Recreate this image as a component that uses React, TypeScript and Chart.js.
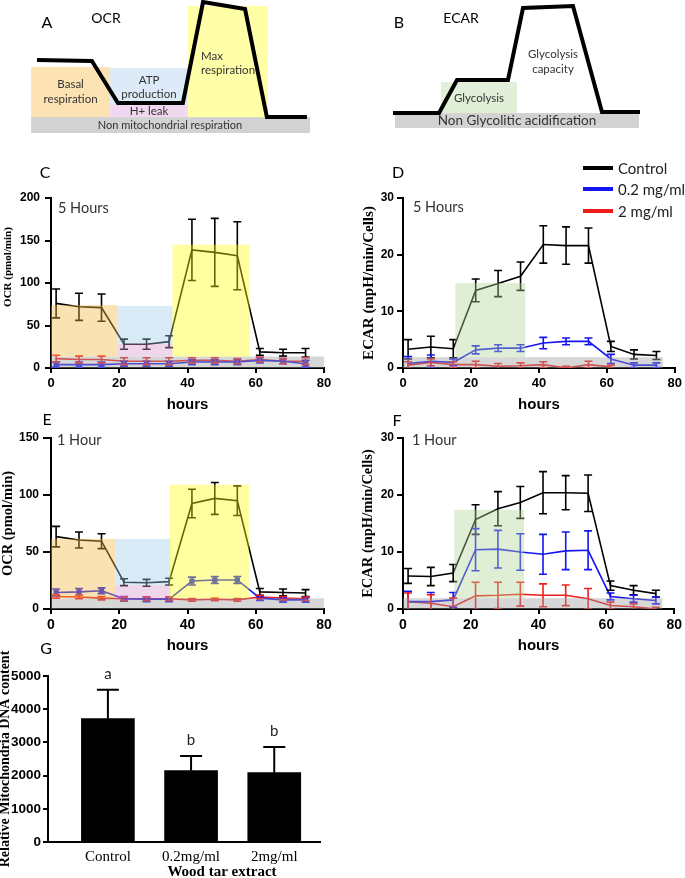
import React, { useEffect, useRef } from 'react';
import { Chart, registerables } from 'chart.js';

Chart.register(...registerables);

// ---------------- data ----------------
const hours = [1.5, 8.2, 14.8, 21.4, 28, 34.6, 41.3, 48, 54.6, 61.2, 68, 74.6];
const seriesNames = ['Control', '0.2 mg/ml', '2 mg/ml'];

// C: OCR, 5 hours
const ocr5Control = [76, 72, 71, 28, 28, 31, 139, 136, 132, 19, 18, 18];
const ocr5ControlErr = [17, 16, 16, 6, 6, 7, 36, 40, 40, 4, 4, 5];
const ocr5Low = [4, 4, 4, 5, 5, 5, 7, 7, 7, 9, 8, 5];
const ocr5LowErr = [3, 3, 3, 3, 3, 3, 3, 3, 3, 3, 3, 4];
const ocr5High = [11, 10, 10, 8, 8, 8, 9, 9, 8, 10, 8, 8];
const ocr5HighErr = [4, 4, 4, 4, 4, 4, 3, 3, 3, 3, 3, 4];

// D: ECAR, 5 hours
const ecar5Control = [3.3, 3.7, 3.4, 13.7, 14.9, 16.2, 21.8, 21.6, 21.6, 3.8, 2.4, 2.2];
const ecar5ControlErr = [1.7, 1.9, 1.6, 2.0, 2.3, 2.5, 3.3, 3.3, 3.1, 0.9, 0.8, 0.7];
const ecar5Low = [0.8, 1.2, 1.0, 3.2, 3.5, 3.5, 4.4, 4.7, 4.7, 1.6, 0.5, 0.5];
const ecar5LowErr = [1.2, 1.1, 0.6, 0.7, 0.6, 0.6, 1.0, 0.6, 0.6, 0.8, 0.4, 0.4];
const ecar5High = [0.5, 1.0, 0.6, 0.6, 0.3, 0.4, 0.6, 0.0, 0.6, 0.2, null, null];
const ecar5HighErr = [0.6, 0.6, 0.5, 0.6, 0.5, 0.5, 0.5, 0.3, 0.6, 0.3, null, null];

// E: OCR, 1 hour
const ocr1Control = [63.5, 60.5, 59.5, 23.5, 23, 24, 92.5, 97, 95, 15, 14.5, 14];
const ocr1ControlErr = [9, 7, 6.5, 3, 3, 3, 12.5, 14, 13, 3, 3, 3];
const ocr1Low = [14.5, 15, 16, 9, 8.5, 8.5, 24.5, 25.5, 25.5, 9.5, 8, 8];
const ocr1LowErr = [3, 3, 2.5, 2, 2, 2, 3.5, 3, 3, 2, 2, 2];
const ocr1High = [11, 10.5, 9.5, 9, 9, 9, 8, 8.5, 8, 10.5, 9.5, 9];
const ocr1HighErr = [1.5, 1.5, 1.5, 1.5, 1.5, 1.5, 1.2, 1.2, 1.2, 1.5, 1.5, 1.5];

// F: ECAR, 1 hour
const ecar1Control = [5.8, 5.7, 6.3, 15.7, 17.6, 18.7, 20.4, 20.4, 20.3, 4.1, 3.3, 2.7];
const ecar1ControlErr = [1.3, 1.6, 1.5, 2.6, 3.0, 2.8, 3.7, 3.0, 3.2, 0.8, 0.8, 0.6];
const ecar1Low = [1.3, 1.3, 1.6, 10.4, 10.5, 10.0, 9.6, 10.2, 10.3, 2.2, 1.8, 1.5];
const ecar1LowErr = [1.8, 1.6, 1.3, 3.7, 3.3, 3.2, 3.5, 3.3, 3.4, 0.6, 0.6, 0.6];
const ecar1High = [1.3, 1.0, 0.4, 2.3, 2.4, 2.6, 2.4, 2.4, 1.8, 0.6, 0.4, 0.0];
const ecar1HighErr = [1.5, 1.5, 1.5, 2.4, 2.3, 2.1, 2.0, 1.8, 1.8, 0.6, 0.5, 0.3];

// shaded phase regions (axis units)
const regionsC = [
  { kind: 'nonmito', x0: 0, x1: 80, y0: 0, y1: 13.5 },
  { kind: 'basal', x0: 0, x1: 19.4, y0: 13.5, y1: 74 },
  { kind: 'atp', x0: 19.4, x1: 35.6, y0: 28.6, y1: 73 },
  { kind: 'leak', x0: 19.4, x1: 35.6, y0: 13.5, y1: 28.6 },
  { kind: 'max', x0: 35.6, x1: 58.2, y0: 13.5, y1: 145 },
];
const regionsD = [
  { kind: 'nonmito', x0: 0, x1: 76.5, y0: 0, y1: 1.9 },
  { kind: 'glyco', x0: 15.4, x1: 36, y0: 1.9, y1: 15 },
];
const regionsE = [
  { kind: 'nonmito', x0: 0, x1: 80, y0: 0, y1: 9.4 },
  { kind: 'basal', x0: 0, x1: 18.7, y0: 9.4, y1: 61.5 },
  { kind: 'atp', x0: 18.7, x1: 35, y0: 20.9, y1: 61.5 },
  { kind: 'leak', x0: 18.7, x1: 35, y0: 9.4, y1: 20.9 },
  { kind: 'max', x0: 34.7, x1: 58, y0: 9.4, y1: 109 },
];
const regionsF = [
  { kind: 'nonmito', x0: 0, x1: 76.5, y0: 0, y1: 1.9 },
  { kind: 'glyco', x0: 15.1, x1: 35.7, y0: 1.9, y1: 17.4 },
];

// A: OCR schematic
const ocrSchemeT = [2.5, 22.1, 31.4, 54.6, 61.8, 76.8, 84.6, 98.9];
const ocrSchemeLevel = [54.9, 54.1, 22.6, 22.6, 98.5, 93.2, 12, 12];
const ocrSchemeRegions = [
  { kind: 'nonmito', x0: 0.4, x1: 100, y0: 0, y1: 12 },
  { kind: 'basal', x0: 0.4, x1: 28.6, y0: 12, y1: 49.6 },
  { kind: 'atp', x0: 28.6, x1: 56.4, y0: 21, y1: 48.9 },
  { kind: 'leak', x0: 28.6, x1: 56.4, y0: 12, y1: 21 },
  { kind: 'max', x0: 56.4, x1: 85, y0: 12, y1: 95.5 },
];
const ocrSchemeTexts = [
  { lines: ['Basal', 'respiration'], x: 14.5, y: 31, align: 'center', size: 11.5 },
  { lines: ['ATP', 'production'], x: 42.5, y: 34.2, align: 'center', size: 11.5 },
  { lines: ['H+ leak'], x: 42.5, y: 16.5, align: 'center', size: 11.5 },
  { lines: ['Max', 'respiration'], x: 61.1, y: 52.6, align: 'left', size: 11.5 },
  { lines: ['Non mitochondrial respiration'], x: 50, y: 5.6, align: 'center', size: 11 },
];

// B: ECAR schematic
const ecarSchemeT = [1.2, 19.6, 26.8, 47.2, 53.2, 73.2, 84.8, 100];
const ecarSchemeLevel = [11.7, 11.7, 37.5, 37.5, 93.75, 95.3, 12.5, 12.5];
const ecarSchemeRegions = [
  { kind: 'nonmito', x0: 2, x1: 99.6, y0: 0, y1: 11.7 },
  { kind: 'glyco', x0: 20.4, x1: 50.8, y0: 11.7, y1: 35.9 },
];
const ecarSchemeTexts = [
  { lines: ['Glycolysis'], x: 35.6, y: 23.4, align: 'center', size: 11.5 },
  { lines: ['Glycolysis', 'capacity'], x: 65.2, y: 51.6, align: 'center', size: 11.5 },
  { lines: ['Non Glycolitic acidification'], x: 50.8, y: 5.5, align: 'center', size: 13.5 },
];

// G: mitochondrial DNA
const groups = ['Control', '0.2mg/ml', '2mg/ml'];
const mtDNA = [3715, 2149, 2088];
const mtDNAErr = [873, 441, 774];
const sigLetters = ['a', 'b', 'b'];

// ---------------- styles ----------------
const seriesColors = ['#000000', '#1414f5', '#f01c1c'];
const overlayFill: Record<string, string> = {
  nonmito: 'rgba(160,160,160,0.42)',
  basal: 'rgba(246,182,62,0.4)',
  atp: 'rgba(160,204,232,0.4)',
  leak: 'rgba(216,152,206,0.4)',
  max: 'rgba(255,255,20,0.4)',
  glyco: 'rgba(178,212,150,0.4)',
};
const schemeFill: Record<string, string> = {
  nonmito: '#d2d2d2',
  basal: '#fde3b3',
  atp: '#dcebf7',
  leak: '#f1d7ef',
  max: '#ffffa8',
  glyco: '#e2efd8',
};
const SANS = "'Liberation Sans', Arial, sans-serif";
const SERIF = "'Liberation Serif', 'Times New Roman', serif";
const CAL = "Lato, 'Open Sans', sans-serif";

// ---------------- plugins ----------------
const regionPlugin = {
  id: 'regions',
  draw(chart: any, o: any) {
    if (!o || !o.items) return;
    const { ctx, chartArea } = chart;
    const xs = chart.scales.x, ys = chart.scales.y;
    ctx.save();
    ctx.beginPath();
    ctx.rect(chartArea.left, chartArea.top, chartArea.right - chartArea.left, chartArea.bottom - chartArea.top);
    ctx.clip();
    o.items.forEach((r: any) => {
      const x0 = xs.getPixelForValue(r.x0), x1 = xs.getPixelForValue(r.x1);
      const y0 = ys.getPixelForValue(r.y0), y1 = ys.getPixelForValue(r.y1);
      ctx.fillStyle = o.palette[r.kind];
      ctx.fillRect(x0, y1, x1 - x0, y0 - y1);
    });
    ctx.restore();
  },
  beforeDatasetsDraw(chart: any, _a: any, o: any) { if (o && !o.over) regionPlugin.draw(chart, o); },
  afterDatasetsDraw(chart: any, _a: any, o: any) { if (o && o.over) regionPlugin.draw(chart, o); },
};

const errorBarPlugin = {
  id: 'errorBars',
  afterDatasetsDraw(chart: any, _a: any, o: any) {
    const { ctx, chartArea } = chart;
    const ys = chart.scales.y;
    const cap = (o && o.capHalf) || 4;
    ctx.save();
    ctx.beginPath();
    ctx.rect(chartArea.left, chartArea.top - 2, chartArea.right - chartArea.left, chartArea.bottom - chartArea.top + 2);
    ctx.clip();
    chart.data.datasets.forEach((ds: any, i: number) => {
      if (!ds.errors) return;
      const meta = chart.getDatasetMeta(i);
      ctx.strokeStyle = ds.errorColor || ds.borderColor;
      ctx.lineWidth = (o && o.lineWidth) || 1.6;
      meta.data.forEach((el: any, j: number) => {
        const d = ds.data[j];
        const e = ds.errors[j];
        if (!d || d.y == null || e == null) return;
        const x = el.x;
        const yt = ys.getPixelForValue(d.y + e);
        const yb = o && o.upOnly ? ys.getPixelForValue(d.y) : ys.getPixelForValue(d.y - e);
        ctx.beginPath();
        ctx.moveTo(x, yt); ctx.lineTo(x, yb);
        ctx.moveTo(x - cap, yt); ctx.lineTo(x + cap, yt);
        if (!(o && o.upOnly)) { ctx.moveTo(x - cap, yb); ctx.lineTo(x + cap, yb); }
        ctx.stroke();
      });
    });
    ctx.restore();
  },
};

const sideTitlePlugin = {
  id: 'sideTitle',
  afterDraw(chart: any, _a: any, o: any) {
    if (!o || !o.text) return;
    const { ctx, chartArea } = chart;
    ctx.save();
    ctx.translate(o.x, (chartArea.top + chartArea.bottom) / 2 + (o.dy || 0));
    ctx.rotate(-Math.PI / 2);
    ctx.font = o.font;
    ctx.fillStyle = '#000';
    ctx.textAlign = 'center';
    ctx.textBaseline = 'middle';
    ctx.fillText(o.text, 0, 0);
    ctx.restore();
  },
};

const freeTextPlugin = {
  id: 'freeText',
  afterDraw(chart: any, _a: any, o: any) {
    if (!o || !o.items) return;
    const { ctx } = chart;
    ctx.save();
    o.items.forEach((t: any) => {
      ctx.font = t.font;
      ctx.fillStyle = t.color || '#000';
      ctx.textAlign = t.align || 'center';
      ctx.textBaseline = 'middle';
      ctx.fillText(t.text, t.x, t.y);
    });
    ctx.restore();
  },
};

const schemeTextPlugin = {
  id: 'schemeText',
  afterDatasetsDraw(chart: any, _a: any, o: any) {
    if (!o || !o.items) return;
    const { ctx } = chart;
    const xs = chart.scales.x, ys = chart.scales.y;
    ctx.save();
    ctx.fillStyle = '#333';
    ctx.textBaseline = 'middle';
    o.items.forEach((t: any) => {
      ctx.font = `${t.size}px ${CAL}`;
      ctx.textAlign = t.align;
      const lh = t.size * 1.25;
      const cx = xs.getPixelForValue(t.x), cy = ys.getPixelForValue(t.y);
      t.lines.forEach((ln: string, k: number) => {
        ctx.fillText(ln, cx, cy + (k - (t.lines.length - 1) / 2) * lh);
      });
    });
    ctx.restore();
  },
};

const barLetterPlugin = {
  id: 'barLetters',
  afterDatasetsDraw(chart: any, _a: any, o: any) {
    if (!o || !o.letters) return;
    const { ctx } = chart;
    const ys = chart.scales.y;
    const ds = chart.data.datasets[0];
    const meta = chart.getDatasetMeta(0);
    ctx.save();
    ctx.font = o.font;
    ctx.fillStyle = '#222';
    ctx.textAlign = 'center';
    ctx.textBaseline = 'middle';
    meta.data.forEach((el: any, j: number) => {
      const top = ys.getPixelForValue(ds.data[j].y + ds.errors[j]);
      ctx.fillText(o.letters[j], el.x, top - o.gap);
    });
    ctx.restore();
  },
};

// ---------------- chart builders ----------------
function schemeConfig(t: number[], lvl: number[], regions: any[], texts: any[], padding: any) {
  return {
    type: 'line',
    data: {
      datasets: [{
        data: t.map((x, i) => ({ x, y: lvl[i] })),
        borderColor: '#000', borderWidth: 4, pointRadius: 0, clip: false, tension: 0,
      }],
    },
    options: {
      responsive: false, animation: false, devicePixelRatio: 1,
      layout: { padding },
      plugins: {
        legend: { display: false }, tooltip: { enabled: false },
        regions: { items: regions, over: false, palette: schemeFill },
        schemeText: { items: texts },
      },
      scales: {
        x: { type: 'linear', min: 0, max: 100, display: false },
        y: { type: 'linear', min: 0, max: 100, display: false },
      },
    },
    plugins: [regionPlugin, schemeTextPlugin],
  };
}

interface Panel {
  series: (number | null)[][];
  errors: (number | null)[][];
  regions: any[];
  yMax: number; yStep: number;
  yTitle: string; yTitleFont: string; yTitleX: number; yTitleDy: number;
  yAxisW: number; xAxisH: number; padTop: number; padRight: number;
  xTickSize: number; yTickSize: number; yTickPad: number; yTickLen: number;
  xTitlePad: number; markers: boolean;
}

function lineConfig(p: Panel) {
  return {
    type: 'line',
    data: {
      datasets: p.series.map((vals, k) => ({
        label: seriesNames[k],
        data: hours.map((h, i) => ({ x: h, y: vals[i] })),
        errors: p.errors[k],
        borderColor: seriesColors[k],
        backgroundColor: seriesColors[k],
        borderWidth: 1.6,
        pointRadius: p.markers && k === 1 ? 2.6 : 0,
        pointStyle: 'rect',
        tension: 0,
      })),
    },
    options: {
      responsive: false, animation: false, devicePixelRatio: 1,
      layout: { padding: { left: 0, right: p.padRight, top: p.padTop, bottom: 0 } },
      plugins: {
        legend: { display: false }, tooltip: { enabled: false },
        regions: { items: p.regions, over: true, palette: overlayFill },
        errorBars: { capHalf: 4, lineWidth: 1.6 },
        sideTitle: { text: p.yTitle, font: p.yTitleFont, x: p.yTitleX, dy: p.yTitleDy },
      },
      scales: {
        x: {
          type: 'linear', min: 0, max: 80,
          ticks: { stepSize: 20, color: '#000', padding: 3, maxRotation: 0, font: { family: SANS, size: p.xTickSize, weight: 'bold' } },
          grid: { drawOnChartArea: false, tickLength: 5, color: '#000', lineWidth: 2 },
          border: { color: '#000', width: 2 },
          title: { display: true, text: 'hours', color: '#000', font: { family: SANS, size: 15, weight: 'bold' }, padding: { top: 0, bottom: p.xTitlePad } },
          afterFit: (s: any) => { s.height = p.xAxisH; },
        },
        y: {
          type: 'linear', min: 0, max: p.yMax,
          ticks: { stepSize: p.yStep, color: '#000', padding: p.yTickPad, font: { family: SANS, size: p.yTickSize, weight: 'bold' } },
          grid: { drawOnChartArea: false, tickLength: p.yTickLen, color: '#000', lineWidth: 2 },
          border: { color: '#000', width: 2 },
          afterFit: (s: any) => { s.width = p.yAxisW; },
        },
      },
    },
    plugins: [errorBarPlugin, regionPlugin, sideTitlePlugin],
  };
}

function barConfig() {
  return {
    type: 'bar',
    data: {
      datasets: [{
        data: groups.map((g, i) => ({ x: i + 1, y: mtDNA[i] })),
        errors: mtDNAErr,
        backgroundColor: '#000', borderWidth: 0, barThickness: 53,
        borderColor: '#000',
      }],
    },
    options: {
      responsive: false, animation: false, devicePixelRatio: 1,
      layout: { padding: { left: 0, right: 20, top: 36, bottom: 0 } },
      plugins: {
        legend: { display: false }, tooltip: { enabled: false },
        errorBars: { capHalf: 11, lineWidth: 2, upOnly: true },
        barLetters: { letters: sigLetters, font: `15px ${CAL}`, gap: 16 },
        sideTitle: { text: 'Relative Mitochondria DNA content', font: `bold 14px ${SERIF}`, x: 5, dy: 0 },
        freeText: { items: [{ text: 'Wood tar extract', x: 222, y: 232, font: `bold 15px ${SERIF}` }] },
      },
      scales: {
        x: {
          type: 'linear', min: 0.28, max: 3.55, offset: false,
          afterBuildTicks: (s: any) => { s.ticks = groups.map((_, i) => ({ value: i + 1 })); },
          ticks: { autoSkip: false, maxRotation: 0, color: '#000', padding: 6, font: { family: SERIF, size: 15 }, callback: (v: any) => groups[Math.round(v) - 1] ?? '' },
          grid: { display: false, drawTicks: false },
          border: { color: '#000', width: 2 },
          afterFit: (s: any) => { s.height = 36; },
        },
        y: {
          min: 0, max: 5000,
          ticks: { stepSize: 1000, color: '#000', padding: 2, font: { family: SANS, size: 13.5, weight: 'bold' }, callback: (v: any) => String(v) },
          grid: { drawOnChartArea: false, tickLength: 5, color: '#000', lineWidth: 2 },
          border: { color: '#000', width: 2 },
          afterFit: (s: any) => { s.width = 48; },
        },
      },
    },
    plugins: [errorBarPlugin, barLetterPlugin, sideTitlePlugin, freeTextPlugin],
  };
}

// ---------------- components ----------------
function ChartCanvas({ left, top, width, height, build }: { left: number; top: number; width: number; height: number; build: () => any }) {
  const ref = useRef<HTMLCanvasElement>(null);
  useEffect(() => {
    const chart = new Chart(ref.current as HTMLCanvasElement, build());
    return () => chart.destroy();
  }, []);
  return (
    <canvas
      ref={ref}
      width={width}
      height={height}
      style={{ position: 'absolute', left, top, width, height }}
    />
  );
}

function Label({ x, y, text, size, color = '#000', anchor = 'center', family = CAL, weight = 400 }: any) {
  return (
    <div
      style={{
        position: 'absolute', left: x, top: y,
        transform: anchor === 'center' ? 'translate(-50%, -50%)' : 'translate(0, -50%)',
        fontFamily: family, fontSize: size, fontWeight: weight, color, whiteSpace: 'nowrap', lineHeight: 1,
      }}
    >
      {text}
    </div>
  );
}

const panelC: Panel = {
  series: [ocr5Control, ocr5Low, ocr5High], errors: [ocr5ControlErr, ocr5LowErr, ocr5HighErr], regions: regionsC,
  yMax: 200, yStep: 50, yTitle: 'OCR (pmol/min)', yTitleFont: `bold 11px ${SERIF}`, yTitleX: 8, yTitleDy: -16,
  yAxisW: 51, xAxisH: 52, padTop: 48, padRight: 16, xTickSize: 13, yTickSize: 12, yTickPad: 5, yTickLen: 6, xTitlePad: 6, markers: true,
};
const panelD: Panel = {
  series: [ecar5Control, ecar5Low, ecar5High], errors: [ecar5ControlErr, ecar5LowErr, ecar5HighErr], regions: regionsD,
  yMax: 30, yStep: 10, yTitle: 'ECAR (mpH/min/Cells)', yTitleFont: `bold 15px ${SERIF}`, yTitleX: 29, yTitleDy: 0,
  yAxisW: 63, xAxisH: 52, padTop: 48, padRight: 8, xTickSize: 13, yTickSize: 12, yTickPad: 3, yTickLen: 6, xTitlePad: 6, markers: false,
};
const panelE: Panel = {
  series: [ocr1Control, ocr1Low, ocr1High], errors: [ocr1ControlErr, ocr1LowErr, ocr1HighErr], regions: regionsE,
  yMax: 150, yStep: 50, yTitle: 'OCR (pmol/min)', yTitleFont: `bold 14.5px ${SERIF}`, yTitleX: 8, yTitleDy: 0,
  yAxisW: 51, xAxisH: 51, padTop: 48, padRight: 16, xTickSize: 14, yTickSize: 12, yTickPad: 4, yTickLen: 8, xTitlePad: 5, markers: true,
};
const panelF: Panel = {
  series: [ecar1Control, ecar1Low, ecar1High], errors: [ecar1ControlErr, ecar1LowErr, ecar1HighErr], regions: regionsF,
  yMax: 30, yStep: 10, yTitle: 'ECAR (mpH/min/Cells)', yTitleFont: `bold 14.5px ${SERIF}`, yTitleX: 28.5, yTitleDy: 0,
  yAxisW: 63, xAxisH: 51, padTop: 48, padRight: 8, xTickSize: 14, yTickSize: 12, yTickPad: 3, yTickLen: 6, xTitlePad: 5, markers: false,
};

const legendY = [168, 189, 211];

export default function App() {
  return (
    <div style={{ position: 'absolute', left: 0, top: 0, width: 685, height: 878, background: '#fff', overflow: 'hidden' }}>
      <ChartCanvas left={0} top={0} width={340} height={140}
        build={() => schemeConfig(ocrSchemeT, ocrSchemeLevel, ocrSchemeRegions, ocrSchemeTexts, { left: 30, right: 30, top: 0, bottom: 7 })} />
      <ChartCanvas left={340} top={0} width={345} height={140}
        build={() => schemeConfig(ecarSchemeT, ecarSchemeLevel, ecarSchemeRegions, ecarSchemeTexts, { left: 50, right: 45, top: 0, bottom: 12 })} />
      <ChartCanvas left={0} top={150} width={340} height={270} build={() => lineConfig(panelC)} />
      <ChartCanvas left={340} top={150} width={345} height={270} build={() => lineConfig(panelD)} />
      <ChartCanvas left={0} top={390} width={340} height={270} build={() => lineConfig(panelE)} />
      <ChartCanvas left={340} top={390} width={345} height={270} build={() => lineConfig(panelF)} />
      <ChartCanvas left={0} top={640} width={340} height={238} build={barConfig} />

      <Label x={47} y={22} text="A" size={16} />
      <Label x={106} y={18} text="OCR" size={14} />
      <Label x={399} y={22} text="B" size={16} />
      <Label x={461} y={18} text="ECAR" size={14} />
      <Label x={45} y={172} text="C" size={16} />
      <Label x={398} y={172} text="D" size={16} />
      <Label x={47} y={419} text="E" size={16} />
      <Label x={397} y={420} text="F" size={16} />
      <Label x={46} y={648} text="G" size={16} />
      <Label x={58} y={208} text="5 Hours" size={14.5} color="#333" anchor="left" />
      <Label x={413} y={207} text="5 Hours" size={14.5} color="#333" anchor="left" />
      <Label x={57} y={440} text="1 Hour" size={14.5} color="#333" anchor="left" />
      <Label x={412} y={440} text="1 Hour" size={14.5} color="#333" anchor="left" />

      {seriesNames.map((name, k) => (
        <React.Fragment key={name}>
          <div style={{ position: 'absolute', left: 583, top: legendY[k] - 2, width: 30, height: 4, background: seriesColors[k] }} />
          <Label x={618} y={legendY[k]} text={name} size={15} color="#222" anchor="left" />
        </React.Fragment>
      ))}
    </div>
  );
}
